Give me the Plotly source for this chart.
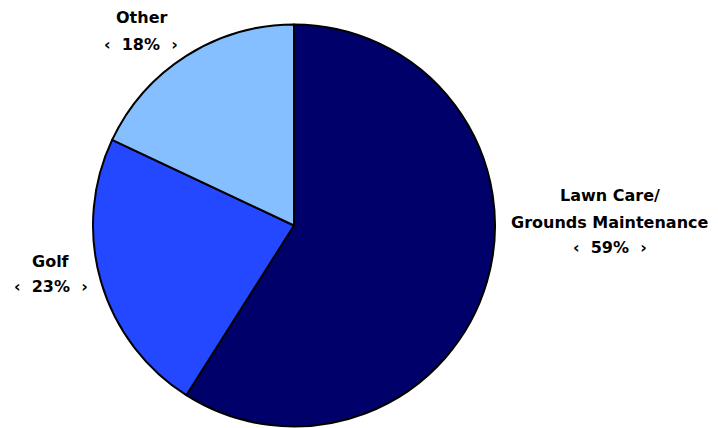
import plotly.graph_objects as go

labels = ["Lawn Care/\nGrounds Maintenance", "Golf", "Other"]
values = [59, 23, 18]
colors = ["#00006A", "#2448FF", "#85BFFF"]

# label anchor positions (pixels, center of block of lines)
label_pos = {
    "Lawn Care/\nGrounds Maintenance": (610, [195, 222]),
    "Golf": (51, [261]),
    "Other": (141, [17]),
}
pct_y = {"Lawn Care/\nGrounds Maintenance": 248, "Golf": 286, "Other": 44}

W, H = 718, 428
fig = go.Figure(go.Pie(
    labels=labels, values=values, sort=False, direction="clockwise", rotation=0,
    marker=dict(colors=colors, line=dict(color="black", width=2)),
    textinfo="none", hoverinfo="label+percent", showlegend=False,
    domain=dict(x=[93 / W, 495 / W], y=[1 / H, 403 / H + 1 / H]),
))

font = dict(family="Comic Sans MS, DejaVu Sans", size=16, color="black")
anns = []
for lab, v in zip(labels, values):
    x, ys = label_pos[lab]
    for line, y in zip(lab.split("\n"), ys):
        anns.append(dict(x=x / W, y=1 - y / H, xref="paper", yref="paper", text=f"<b>{line}</b>",
                         showarrow=False, font=font, xanchor="center", yanchor="middle"))
    anns.append(dict(x=x / W, y=1 - pct_y[lab] / H, xref="paper", yref="paper",
                     text=f"<b>‹&nbsp;&nbsp;{v}%&nbsp;&nbsp;›</b>", showarrow=False, font=font,
                     xanchor="center", yanchor="middle"))

fig.update_layout(width=W, height=H, margin=dict(l=0, r=0, t=0, b=0),
                  paper_bgcolor="white", plot_bgcolor="white", annotations=anns)
fig.write_html("out.html")
